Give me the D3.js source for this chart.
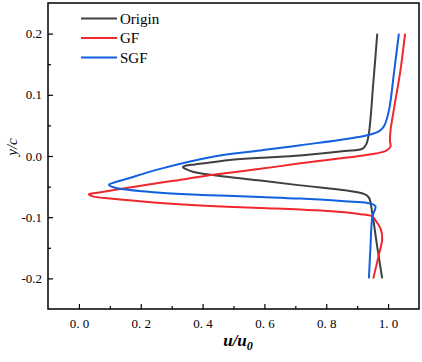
<!DOCTYPE html>
<html><head><meta charset="utf-8">
<script src="https://cdn.jsdelivr.net/npm/d3@7/dist/d3.min.js"></script>
<style>body{margin:0;background:#fff}svg{display:block}svg text{font-family:"Liberation Serif","Times New Roman",serif !important}</style>
</head><body><svg id="c" width="422" height="362"></svg>
<script>
// Data: [u/u0, y/c]
const seriesNames = ["Origin", "GF", "SGF"];
const seriesColors = ["#404040", "#f0282d", "#1060e0"];
const originData = [
  [0.965,0.200],[0.952,0.118],[0.938,0.037],[0.930,0.020],[0.918,0.012],[0.860,0.008],
  [0.716,0.001],[0.587,-0.003],[0.480,-0.007],[0.414,-0.0115],[0.375,-0.0138],[0.345,-0.0158],
  [0.336,-0.018],[0.345,-0.021],[0.371,-0.026],[0.479,-0.034],[0.587,-0.040],[0.716,-0.048],[0.860,-0.056],
  [0.922,-0.062],[0.938,-0.068],[0.949,-0.094],[0.965,-0.149],[0.981,-0.200]
];
const gfData = [
  [1.055,0.200],[1.040,0.140],[1.020,0.080],[1.008,0.042],[1.006,0.025],[1.008,0.016],
  [0.995,0.009],[0.960,0.004],[0.716,-0.012],[0.587,-0.021],[0.446,-0.030],[0.300,-0.041],
  [0.144,-0.053],[0.060,-0.060],[0.032,-0.0625],[0.045,-0.066],[0.100,-0.0696],[0.263,-0.0767],
  [0.425,-0.0816],[0.587,-0.085],[0.716,-0.0875],[0.860,-0.092],[0.911,-0.095],[0.950,-0.099],
  [0.959,-0.105],[0.976,-0.119],[0.981,-0.135],[0.970,-0.162],[0.952,-0.200]
];
const sgfData = [
  [1.035,0.200],[1.020,0.140],[1.003,0.075],[0.988,0.050],[0.973,0.041],[0.933,0.034],
  [0.716,0.0175],[0.587,0.009],[0.425,-0.002],[0.263,-0.021],[0.150,-0.038],[0.110,-0.044],
  [0.097,-0.047],[0.117,-0.052],[0.263,-0.060],[0.425,-0.064],[0.587,-0.067],[0.716,-0.0696],
  [0.860,-0.074],[0.933,-0.0767],[0.959,-0.082],[0.949,-0.0996],[0.943,-0.149],[0.938,-0.200]
];
const xTicks = [0, 0.2, 0.4, 0.6, 0.8, 1.0];
const xTickLabels = ["0. 0", "0. 2", "0. 4", "0. 6", "0. 8", "1. 0"];
const xMinor = [0.1, 0.3, 0.5, 0.7, 0.9];
const yTicks = [-0.2, -0.1, 0, 0.1, 0.2];
const yTickLabels = ["-0.2", "-0.1", "0.0", "0.1", "0.2"];
const yMinor = [-0.15, -0.05, 0.05, 0.15];

const svg = d3.select("#c");
const L = 48, R = 419, T = 3, B = 309;
const x = d3.scaleLinear().domain([-0.1, 1.1]).range([L, R]);
const y = d3.scaleLinear().domain([-0.25, 0.25]).range([B, T]);

const line = d3.line().x(d => x(d[0])).y(d => y(d[1])).curve(d3.curveCatmullRom.alpha(0.5));
const all = [originData, gfData, sgfData];
all.forEach((data, i) => {
  svg.append("path").datum(data).attr("d", line).attr("fill", "none")
    .attr("stroke", seriesColors[i]).attr("stroke-width", 2).attr("stroke-linejoin", "round");
});

// axes
const xAxis = d3.axisBottom(x).tickValues(xTicks).tickFormat((d, i) => xTickLabels[i])
  .tickSizeInner(-5).tickSizeOuter(0).tickPadding(10);
svg.append("g").attr("transform", `translate(0,${B})`).call(xAxis);
svg.append("g").attr("transform", `translate(0,${B})`)
  .call(d3.axisBottom(x).tickValues(xMinor).tickFormat("").tickSizeInner(-3).tickSizeOuter(0));
const yAxis = d3.axisLeft(y).tickValues(yTicks).tickFormat((d, i) => yTickLabels[i])
  .tickSizeInner(-5).tickSizeOuter(0).tickPadding(6);
svg.append("g").attr("transform", `translate(${L},0)`).call(yAxis);
svg.append("g").attr("transform", `translate(${L},0)`)
  .call(d3.axisLeft(y).tickValues(yMinor).tickFormat("").tickSizeInner(-3).tickSizeOuter(0));
svg.selectAll(".domain").remove();
svg.selectAll(".tick line").attr("stroke", "#000").attr("stroke-width", 1.2);
svg.selectAll(".tick text").style("font-size", "13px").attr("fill", "#000");

svg.append("rect").attr("x", L).attr("y", T).attr("width", R - L).attr("height", B - T)
  .attr("fill", "none").attr("stroke", "#000").attr("stroke-width", 1.5);

// axis titles
const xt = svg.append("text").attr("x", 238).attr("y", 346).attr("text-anchor", "middle")
  .style("font-size", "17px").style("font-weight", "bold").style("font-style", "italic");
xt.append("tspan").text("u/u");
xt.append("tspan").style("font-size", "12px").attr("dy", 4).text("0");
svg.append("text").attr("transform", "translate(17,147) rotate(-90)").attr("text-anchor", "middle")
  .style("font-size", "15px").style("font-style", "italic").text("y/c");

// legend
const legY = [18.5, 38, 57.5];
seriesNames.forEach((n, i) => {
  svg.append("line").attr("x1", 81).attr("x2", 117).attr("y1", legY[i]).attr("y2", legY[i])
    .attr("stroke", seriesColors[i]).attr("stroke-width", 2);
  svg.append("text").attr("x", 120).attr("y", legY[i] + 5).style("font-size", "15px").text(n);
});
</script></body></html>
